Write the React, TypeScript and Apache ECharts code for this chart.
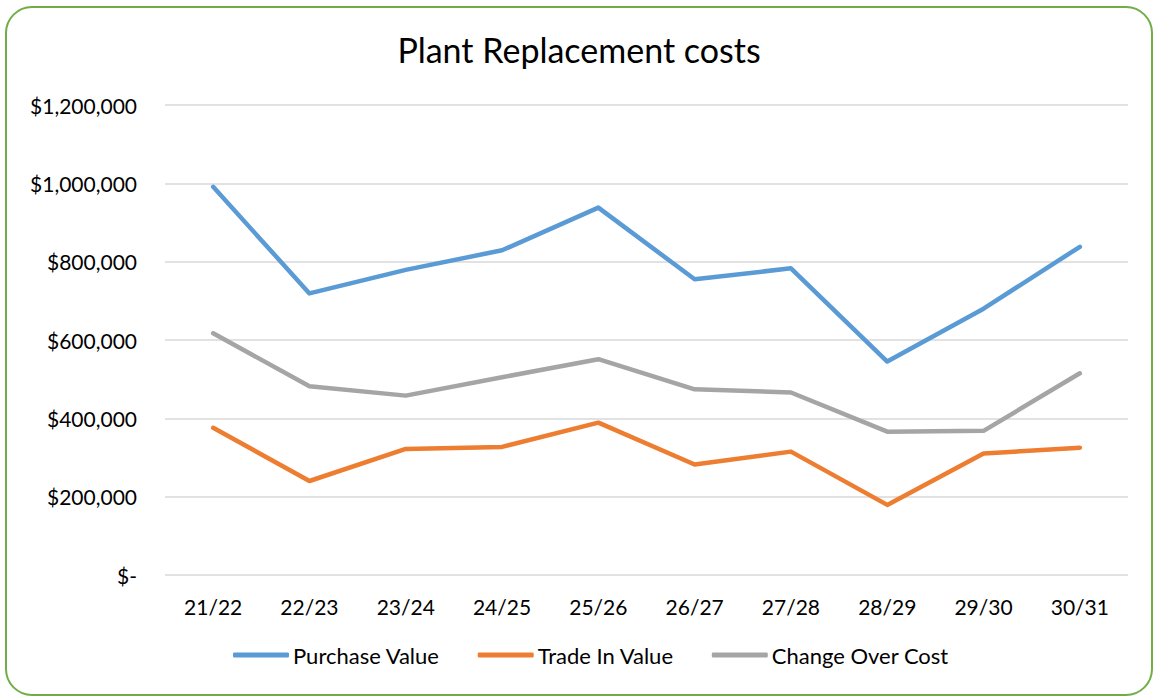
import React, { useEffect, useRef } from "react";
import * as echarts from "echarts";

const categories = ["21/22", "22/23", "23/24", "24/25", "25/26", "26/27", "27/28", "28/29", "29/30", "30/31"];
const purchaseValue = [991000, 719000, 779000, 829000, 938000, 755000, 783000, 545000, 680000, 838000];
const tradeInValue = [376000, 240000, 322000, 327000, 389000, 282000, 315000, 179000, 310000, 325000];
const changeOverCost = [617000, 482000, 458000, 505000, 551000, 474000, 466000, 366000, 368000, 515000];
const yTicks = { min: 0, max: 1200000, interval: 200000 };

const FONT = "Lato, 'Open Sans', sans-serif";

function fmt(v: number): string {
  if (v === 0) return "$-";
  return "$" + v.toLocaleString("en-US");
}

export default function App() {
  const ref = useRef<HTMLDivElement>(null);
  useEffect(() => {
    document.body.style.margin = "0";
    const chart = echarts.init(ref.current!, null, { renderer: "svg" });
    const mk = (name: string, data: number[], color: string) => ({
      name,
      type: "line",
      data,
      symbol: "none",
      lineStyle: { color, width: 4.5, cap: "round", join: "round" },
      itemStyle: { color },
    });
    chart.setOption({
      animation: false,
      backgroundColor: "#ffffff",
      textStyle: { fontFamily: FONT },
      graphic: [
        {
          type: "rect",
          shape: { x: 6, y: 7, width: 1146, height: 688, r: 26 },
          style: { fill: "none", stroke: "#70AD47", lineWidth: 2 },
          silent: true,
        },
      ],
      title: {
        text: "Plant Replacement costs",
        left: "center",
        top: 27,
        textStyle: { fontFamily: FONT, fontSize: 34, fontWeight: "normal", color: "#000000" },
      },
      grid: { left: 165, right: 30, top: 105, bottom: 123, containLabel: false },
      legend: {
        bottom: 27,
        left: 228,
        itemWidth: 56,
        itemHeight: 5,
        itemGap: 38,
        icon: "roundRect",
        textStyle: { fontFamily: FONT, fontSize: 22, color: "#000000", padding: [0, 0, 0, -1] },
        data: ["Purchase Value", "Trade In Value", "Change Over Cost"],
      },
      xAxis: {
        type: "category",
        data: categories,
        boundaryGap: true,
        axisLine: { show: false },
        axisTick: { show: false },
        axisLabel: { fontFamily: FONT, fontSize: 21, color: "#000000", margin: 21 },
      },
      yAxis: {
        type: "value",
        min: yTicks.min,
        max: yTicks.max,
        interval: yTicks.interval,
        axisLine: { show: false },
        axisTick: { show: false },
        splitLine: { lineStyle: { color: "#D9D9D9", width: 1.5 } },
        axisLabel: { fontFamily: FONT, fontSize: 21, color: "#000000", margin: 28, formatter: fmt },
      },
      series: [
        mk("Purchase Value", purchaseValue, "#5B9BD5"),
        mk("Trade In Value", tradeInValue, "#ED7D31"),
        mk("Change Over Cost", changeOverCost, "#A5A5A5"),
      ],
    });
    return () => chart.dispose();
  }, []);
  return <div ref={ref} style={{ width: 1158, height: 698 }} />;
}
